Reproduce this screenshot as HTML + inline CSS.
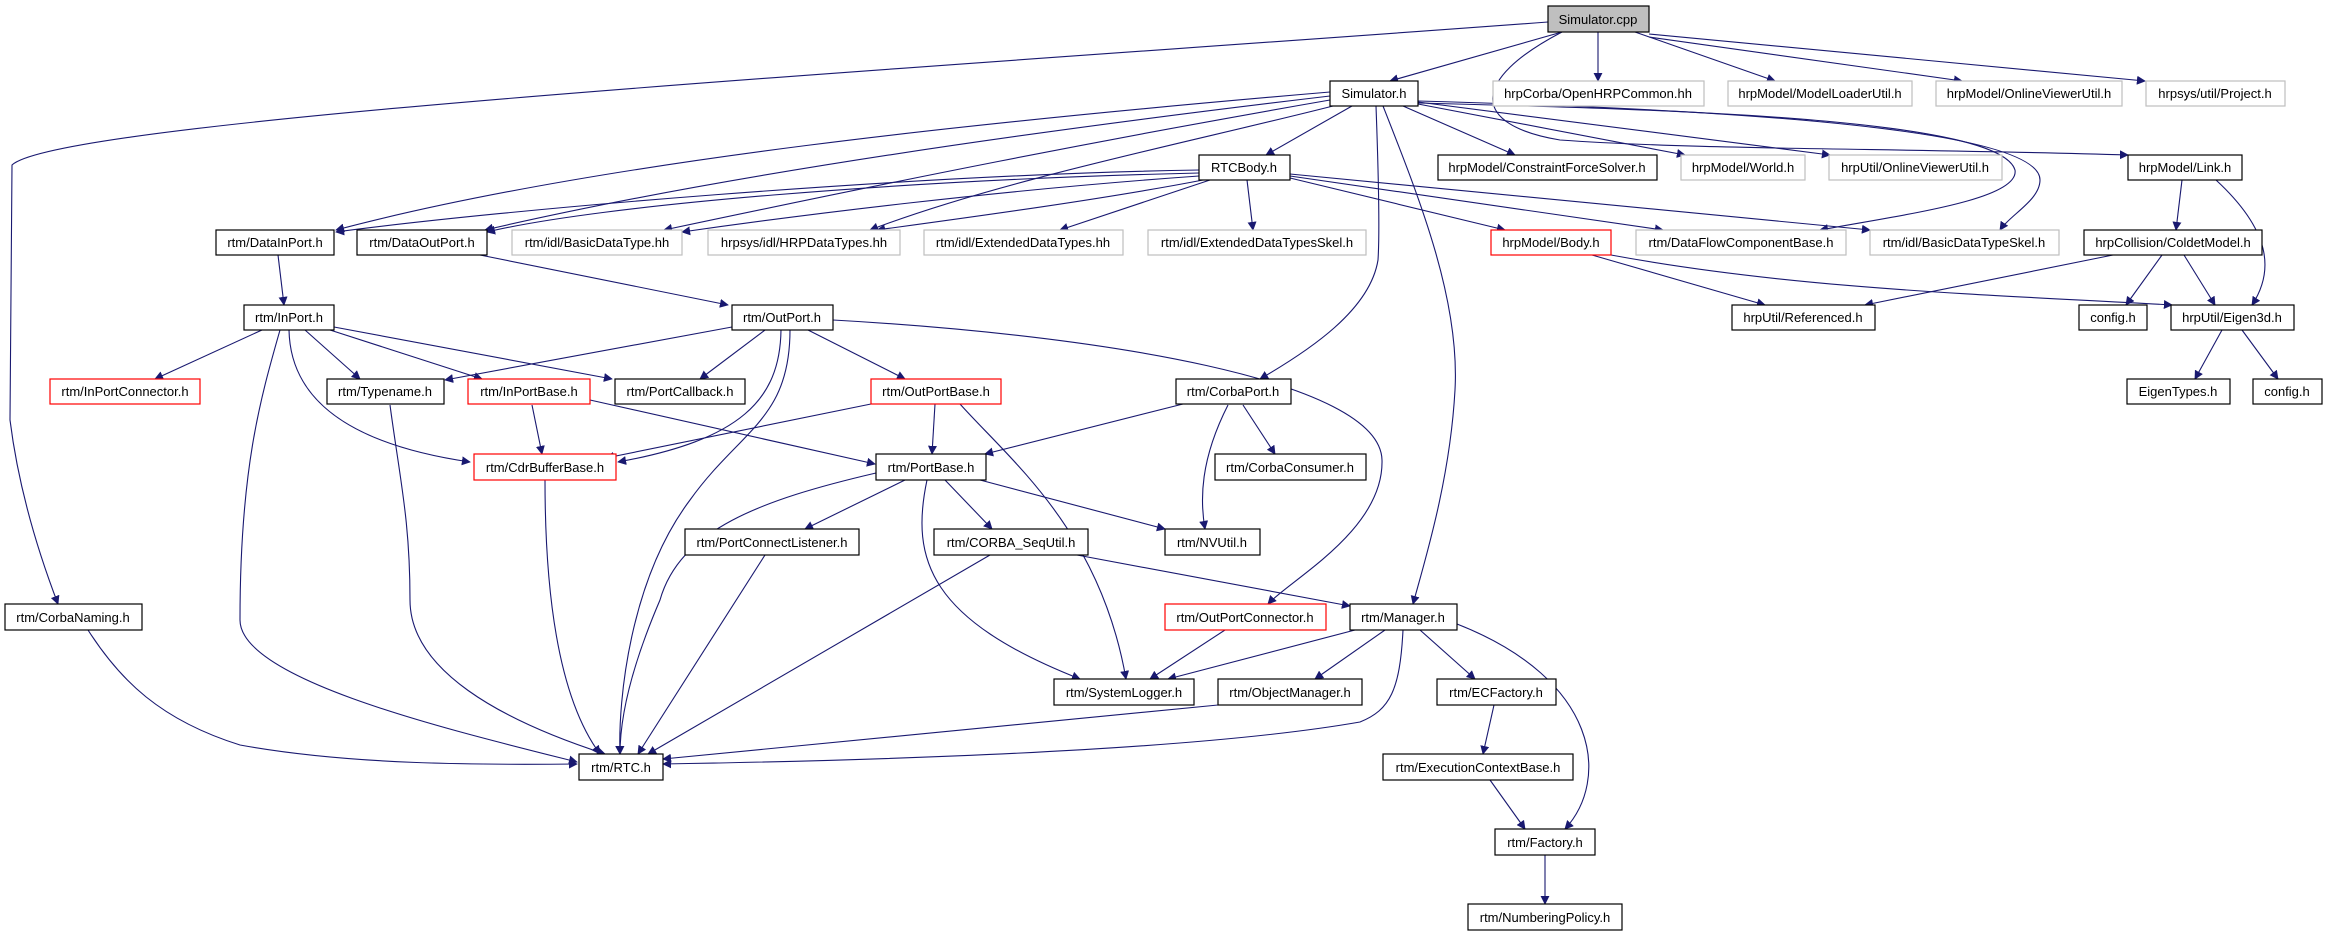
<!DOCTYPE html>
<html><head><meta charset="utf-8"><style>
html,body{margin:0;padding:0;background:#fff;}
svg{display:block;}
text{font-family:"Liberation Sans",sans-serif;font-size:13px;fill:#000;text-anchor:middle;}
.n{fill:#fff;stroke:#000;stroke-width:1.2;}
.g{fill:#fff;stroke:#bfbfbf;stroke-width:1.2;}
.r{fill:#fff;stroke:#ff0000;stroke-width:1.2;}
.e{fill:none;stroke:#191970;stroke-width:1.1;marker-end:url(#a);}
</style></head><body>
<svg width="2327" height="933" viewBox="0 0 2327 933" xmlns="http://www.w3.org/2000/svg">
<defs><marker id="a" viewBox="0 0 10 10" refX="9" refY="5" markerWidth="9" markerHeight="9" markerUnits="userSpaceOnUse" orient="auto"><path d="M0,0L10,5L0,10z" fill="#191970"/></marker></defs>
<g>
<path class="e" d="M1562,32L1390,81"/>
<path class="e" d="M1598,32L1598,81"/>
<path class="e" d="M1635,32L1775,81"/>
<path class="e" d="M1649,37L1962,81"/>
<path class="e" d="M1649,34L2145,81"/>
<path class="e" d="M1548,22C900,70 60,120 12,165L10,420C20,500 45,570 58,604"/>
<path class="e" d="M1562,32C1470,80 1470,125 1560,140C1700,150 1900,148 2128,155"/>
<path class="e" d="M1330,92C1000,120 600,160 336,230"/>
<path class="e" d="M1330,96C1000,135 700,180 485,230"/>
<path class="e" d="M1330,100C1100,140 900,180 664,230"/>
<path class="e" d="M1333,106C1200,140 1000,180 870,230"/>
<path class="e" d="M1352,106L1266,155"/>
<path class="e" d="M1403,106L1515,155"/>
<path class="e" d="M1418,104L1685,155"/>
<path class="e" d="M1418,102L1830,155"/>
<path class="e" d="M1418,103C1700,110 2000,120 2015,170C2020,200 1900,215 1820,230"/>
<path class="e" d="M1418,101C1750,110 2040,130 2040,180C2040,200 2010,215 2000,230"/>
<path class="e" d="M1376,106C1378,160 1380,230 1378,260C1370,310 1310,350 1260,379"/>
<path class="e" d="M1383,106C1420,200 1460,300 1455,390C1450,480 1425,560 1413,604"/>
<path class="e" d="M1199,170C900,175 500,210 336,232"/>
<path class="e" d="M1199,173C900,180 600,205 487,232"/>
<path class="e" d="M1199,176C1000,190 800,215 682,232"/>
<path class="e" d="M1203,180C1100,200 950,220 877,230"/>
<path class="e" d="M1210,180L1060,230"/>
<path class="e" d="M1247,180L1253,230"/>
<path class="e" d="M1290,178L1505,230"/>
<path class="e" d="M1290,176L1663,230"/>
<path class="e" d="M1290,174L1870,230"/>
<path class="e" d="M2182,180L2176,230"/>
<path class="e" d="M2216,180C2270,230 2275,270 2252,305"/>
<path class="e" d="M2113,255L1865,305"/>
<path class="e" d="M2162,255L2126,305"/>
<path class="e" d="M2184,255L2215,305"/>
<path class="e" d="M1592,255L1765,305"/>
<path class="e" d="M1611,255C1800,290 2000,295 2172,305"/>
<path class="e" d="M2222,330L2195,379"/>
<path class="e" d="M2242,330L2278,379"/>
<path class="e" d="M278,255L284,305"/>
<path class="e" d="M480,255L728,305"/>
<path class="e" d="M262,330L155,379"/>
<path class="e" d="M305,330L360,379"/>
<path class="e" d="M330,330L482,379"/>
<path class="e" d="M334,327L612,379"/>
<path class="e" d="M289,330C290,380 320,440 470,462"/>
<path class="e" d="M280,330C260,400 240,470 240,620C240,680 450,730 577,762"/>
<path class="e" d="M732,327L445,380"/>
<path class="e" d="M765,330L700,379"/>
<path class="e" d="M808,330L905,379"/>
<path class="e" d="M781,330C780,400 740,440 618,462"/>
<path class="e" d="M790,330C790,420 740,430 690,500C630,580 618,700 620,754"/>
<path class="e" d="M833,320C1100,335 1380,380 1382,460C1384,530 1290,580 1268,604"/>
<path class="e" d="M390,405C400,480 410,520 410,600C410,670 500,720 605,754"/>
<path class="e" d="M532,405L542,454"/>
<path class="e" d="M590,400L875,464"/>
<path class="e" d="M871,404L606,458"/>
<path class="e" d="M935,404L932,454"/>
<path class="e" d="M960,404C1010,460 1100,530 1126,679"/>
<path class="e" d="M1183,404L985,454"/>
<path class="e" d="M1243,405L1275,454"/>
<path class="e" d="M1228,405C1200,460 1200,500 1205,529"/>
<path class="e" d="M545,480C545,600 560,700 600,754"/>
<path class="e" d="M876,473C760,500 680,530 660,600C630,670 620,720 620,754"/>
<path class="e" d="M905,480L805,529"/>
<path class="e" d="M945,480L992,529"/>
<path class="e" d="M980,480L1165,529"/>
<path class="e" d="M927,480C910,560 930,620 1080,679"/>
<path class="e" d="M765,555L638,754"/>
<path class="e" d="M990,555L648,754"/>
<path class="e" d="M1077,555L1350,606"/>
<path class="e" d="M1225,630L1150,679"/>
<path class="e" d="M1355,630L1168,679"/>
<path class="e" d="M1385,630L1315,679"/>
<path class="e" d="M1420,630L1475,679"/>
<path class="e" d="M1403,630C1400,690 1390,710 1360,722C1200,750 900,760 663,764"/>
<path class="e" d="M1218,705L663,759"/>
<path class="e" d="M1457,624C1600,680 1610,780 1565,829"/>
<path class="e" d="M1494,705L1483,754"/>
<path class="e" d="M1490,780L1525,829"/>
<path class="e" d="M1545,855L1545,904"/>
<path class="e" d="M88,630C120,680 160,720 240,745C350,765 480,765 577,764"/>
</g>
<g>
<rect x="1548" y="6" width="101" height="26" fill="#bfbfbf" stroke="#000" stroke-width="1.2"/><text x="1598" y="24">Simulator.cpp</text>
<rect class="n" x="1330" y="81" width="88" height="25"/><text x="1374" y="98">Simulator.h</text>
<rect class="g" x="1493" y="81" width="211" height="25"/><text x="1598" y="98">hrpCorba/OpenHRPCommon.hh</text>
<rect class="g" x="1728" y="81" width="184" height="25"/><text x="1820" y="98">hrpModel/ModelLoaderUtil.h</text>
<rect class="g" x="1936" y="81" width="186" height="25"/><text x="2029" y="98">hrpModel/OnlineViewerUtil.h</text>
<rect class="g" x="2146" y="81" width="139" height="25"/><text x="2215" y="98">hrpsys/util/Project.h</text>

<rect class="n" x="1199" y="155" width="91" height="25"/><text x="1244" y="172">RTCBody.h</text>
<rect class="n" x="1438" y="155" width="219" height="25"/><text x="1547" y="172">hrpModel/ConstraintForceSolver.h</text>
<rect class="g" x="1681" y="155" width="124" height="25"/><text x="1743" y="172">hrpModel/World.h</text>
<rect class="g" x="1829" y="155" width="173" height="25"/><text x="1915" y="172">hrpUtil/OnlineViewerUtil.h</text>
<rect class="n" x="2128" y="155" width="114" height="25"/><text x="2185" y="172">hrpModel/Link.h</text>

<rect class="n" x="216" y="230" width="118" height="25"/><text x="275" y="247">rtm/DataInPort.h</text>
<rect class="n" x="357" y="230" width="130" height="25"/><text x="422" y="247">rtm/DataOutPort.h</text>
<rect class="g" x="512" y="230" width="170" height="25"/><text x="597" y="247">rtm/idl/BasicDataType.hh</text>
<rect class="g" x="708" y="230" width="192" height="25"/><text x="804" y="247">hrpsys/idl/HRPDataTypes.hh</text>
<rect class="g" x="924" y="230" width="199" height="25"/><text x="1023" y="247">rtm/idl/ExtendedDataTypes.hh</text>
<rect class="g" x="1148" y="230" width="218" height="25"/><text x="1257" y="247">rtm/idl/ExtendedDataTypesSkel.h</text>
<rect class="r" x="1491" y="230" width="120" height="25"/><text x="1551" y="247">hrpModel/Body.h</text>
<rect class="g" x="1636" y="230" width="210" height="25"/><text x="1741" y="247">rtm/DataFlowComponentBase.h</text>
<rect class="g" x="1870" y="230" width="189" height="25"/><text x="1964" y="247">rtm/idl/BasicDataTypeSkel.h</text>
<rect class="n" x="2084" y="230" width="178" height="25"/><text x="2173" y="247">hrpCollision/ColdetModel.h</text>

<rect class="n" x="244" y="305" width="90" height="25"/><text x="289" y="322">rtm/InPort.h</text>
<rect class="n" x="732" y="305" width="101" height="25"/><text x="782" y="322">rtm/OutPort.h</text>
<rect class="n" x="1732" y="305" width="143" height="25"/><text x="1803" y="322">hrpUtil/Referenced.h</text>
<rect class="n" x="2079" y="305" width="68" height="25"/><text x="2113" y="322">config.h</text>
<rect class="n" x="2171" y="305" width="123" height="25"/><text x="2232" y="322">hrpUtil/Eigen3d.h</text>

<rect class="r" x="50" y="379" width="150" height="25"/><text x="125" y="396">rtm/InPortConnector.h</text>
<rect class="n" x="327" y="379" width="117" height="25"/><text x="385" y="396">rtm/Typename.h</text>
<rect class="r" x="468" y="379" width="122" height="25"/><text x="529" y="396">rtm/InPortBase.h</text>
<rect class="n" x="615" y="379" width="130" height="25"/><text x="680" y="396">rtm/PortCallback.h</text>
<rect class="r" x="871" y="379" width="130" height="25"/><text x="936" y="396">rtm/OutPortBase.h</text>
<rect class="n" x="1176" y="379" width="115" height="25"/><text x="1233" y="396">rtm/CorbaPort.h</text>
<rect class="n" x="2127" y="379" width="103" height="25"/><text x="2178" y="396">EigenTypes.h</text>
<rect class="n" x="2253" y="379" width="69" height="25"/><text x="2287" y="396">config.h</text>

<rect class="r" x="474" y="454" width="142" height="26"/><text x="545" y="472">rtm/CdrBufferBase.h</text>
<rect class="n" x="876" y="454" width="110" height="26"/><text x="931" y="472">rtm/PortBase.h</text>
<rect class="n" x="1215" y="454" width="151" height="26"/><text x="1290" y="472">rtm/CorbaConsumer.h</text>

<rect class="n" x="685" y="529" width="174" height="26"/><text x="772" y="547">rtm/PortConnectListener.h</text>
<rect class="n" x="934" y="529" width="154" height="26"/><text x="1011" y="547">rtm/CORBA_SeqUtil.h</text>
<rect class="n" x="1165" y="529" width="95" height="26"/><text x="1212" y="547">rtm/NVUtil.h</text>

<rect class="n" x="5" y="604" width="137" height="26"/><text x="73" y="622">rtm/CorbaNaming.h</text>
<rect class="r" x="1165" y="604" width="161" height="26"/><text x="1245" y="622">rtm/OutPortConnector.h</text>
<rect class="n" x="1350" y="604" width="107" height="26"/><text x="1403" y="622">rtm/Manager.h</text>

<rect class="n" x="1054" y="679" width="140" height="26"/><text x="1124" y="697">rtm/SystemLogger.h</text>
<rect class="n" x="1218" y="679" width="144" height="26"/><text x="1290" y="697">rtm/ObjectManager.h</text>
<rect class="n" x="1437" y="679" width="119" height="26"/><text x="1496" y="697">rtm/ECFactory.h</text>

<rect class="n" x="579" y="754" width="84" height="26"/><text x="621" y="772">rtm/RTC.h</text>
<rect class="n" x="1383" y="754" width="190" height="26"/><text x="1478" y="772">rtm/ExecutionContextBase.h</text>

<rect class="n" x="1495" y="829" width="100" height="26"/><text x="1545" y="847">rtm/Factory.h</text>
<rect class="n" x="1468" y="904" width="154" height="26"/><text x="1545" y="922">rtm/NumberingPolicy.h</text>
</g>
</svg>
</body></html>
